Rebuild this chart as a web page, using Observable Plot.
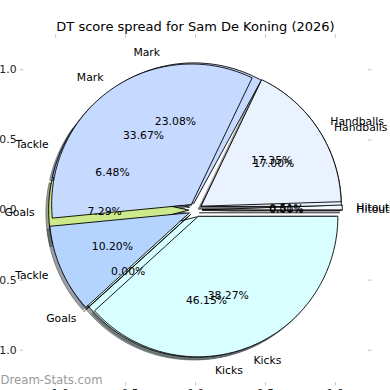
<!DOCTYPE html>
<html>
<head>
<meta charset="utf-8">
<script src="https://cdn.jsdelivr.net/npm/d3@7"></script>
<script src="https://cdn.jsdelivr.net/npm/@observablehq/plot@0.6"></script>
<style>
  html, body { margin: 0; padding: 0; background: #fff; }
  #chart { width: 390px; height: 390px; overflow: hidden; }
</style>
</head>
<body>
<div id="chart"></div>
<script>
// ---- data ----
const title = "DT score spread for Sam De Koning (2026)";
const watermark = "Dream-Stats.com";
const categories = ["Hitouts", "Handballs", "Mark", "Tackle", "Goals", "Kicks"];
// top pie (drawn last)
const seriesA = [0.51, 17.35, 33.67, 10.20, 0.00, 38.27];
// pie underneath
const seriesB = [0.00, 17.00, 23.08, 6.48, 7.29, 46.15];
const sliceColors = ["#f6f8ff", "#eaf1ff", "#c6d9ff", "#b4d4ff", "#cce98b", "#d8feff"];
const axisTicks = [-1, -0.5, 0, 0.5, 1];

// ---- geometry helpers (derived from values) ----
const explode = 0.05, radius = 1, labelDist = 1.1, pctDist = 0.6;
const shadowOffset = 0.02;
const rad = d => d * Math.PI / 180;

function darker(c) {
  const k = d3.rgb(c);
  return d3.rgb(k.r * 0.3, k.g * 0.3, k.b * 0.3).formatHex();
}

function buildPie(values, name) {
  const total = d3.sum(values);
  const pts = [], labels = [];
  let t = 0;
  values.forEach((v, i) => {
    const t1 = t, t2 = t + 360 * v / total;
    t = t2;
    const mid = (t1 + t2) / 2;
    const cx = explode * Math.cos(rad(mid)), cy = explode * Math.sin(rad(mid));
    const key = name + "-" + i;
    pts.push({key, x: cx, y: cy, color: sliceColors[i], shadow: darker(sliceColors[i])});
    const n = Math.max(1, Math.ceil(t2 - t1));
    for (let k = 0; k <= n; k++) {
      const a = rad(t1 + (t2 - t1) * k / n);
      pts.push({key, x: cx + radius * Math.cos(a), y: cy + radius * Math.sin(a), color: sliceColors[i], shadow: darker(sliceColors[i])});
    }
    const lx = labelDist * radius * Math.cos(rad(mid));
    labels.push({
      name: categories[i],
      pct: v.toFixed(2) + "%",
      lx: cx + lx,
      ly: cy + labelDist * radius * Math.sin(rad(mid)),
      px: cx + pctDist * radius * Math.cos(rad(mid)),
      py: cy + pctDist * radius * Math.sin(rad(mid)),
      side: Math.abs(lx) < 1e-9 ? "middle" : (lx > 0 ? "start" : "end")
    });
  });
  return {pts, labels};
}

const pieA = buildPie(seriesA, "A");
const pieB = buildPie(seriesB, "B");
const allLabels = pieB.labels.concat(pieA.labels);
const shadowPts = pieB.pts.concat(pieA.pts).map(d => ({...d, x: d.x - shadowOffset, y: d.y - shadowOffset}));

const fmt = d => d3.format(".1f")(d).replace("-", "\u2212");
const font = "DejaVu Sans, Liberation Sans, sans-serif";

const chart = Plot.plot({
  width: 390,
  height: 390,
  marginLeft: 23,
  marginRight: 23,
  marginTop: 37,
  marginBottom: 8,
  style: {fontFamily: font, fontSize: "10.8px", background: "#fff", overflow: "visible"},
  x: {domain: [-1.23, 1.23], axis: null},
  y: {domain: [-1.23, 1.23], axis: null},
  color: {type: "identity"},
  marks: [
    // axes ticks
    Plot.axisY(axisTicks, {anchor: "left", tickSize: 3.5, tickPadding: 3.5, stroke: "#c4c4c4", fill: "#222", tickFormat: fmt, label: null, fontSize: 10.8}),
    Plot.axisY(axisTicks, {anchor: "right", tickSize: 3.5, stroke: "#c4c4c4", tickFormat: () => "", label: null}),
    Plot.axisX(axisTicks, {anchor: "top", tickSize: 3.5, stroke: "#c4c4c4", tickFormat: () => "", label: null}),
    Plot.axisX(axisTicks, {anchor: "bottom", tickSize: 3.5, tickPadding: 3.5, stroke: "#c4c4c4", fill: "#222", tickFormat: fmt, label: null, fontSize: 10.8}),
    // shadows
    Plot.line(shadowPts, {x: "x", y: "y", z: "key", fill: "shadow", stroke: "shadow", fillOpacity: 0.5, strokeOpacity: 0.5, strokeWidth: 1, curve: "linear-closed"}),
    // lower pie
    Plot.line(pieB.pts, {x: "x", y: "y", z: "key", fill: "color", stroke: "black", strokeWidth: 0.9, curve: "linear-closed"}),
    // upper pie
    Plot.line(pieA.pts, {x: "x", y: "y", z: "key", fill: "color", stroke: "black", strokeWidth: 0.9, curve: "linear-closed"}),
    // category labels
    Plot.text(allLabels.filter(d => d.side === "start"), {x: "lx", y: "ly", text: "name", textAnchor: "start", fill: "black", fontSize: 10.8}),
    Plot.text(allLabels.filter(d => d.side === "end"), {x: "lx", y: "ly", text: "name", textAnchor: "end", fill: "black", fontSize: 10.8}),
    Plot.text(allLabels.filter(d => d.side === "middle"), {x: "lx", y: "ly", text: "name", textAnchor: "middle", fill: "black", fontSize: 10.8}),
    // percentage labels
    Plot.text(allLabels, {x: "px", y: "py", text: "pct", textAnchor: "middle", fill: "black", fontSize: 10.8}),
    // title
    Plot.text([title], {frameAnchor: "top", lineAnchor: "middle", dy: -11, fontSize: 13, fill: "black"}),
    // watermark
    Plot.text([watermark], {frameAnchor: "bottom-left", lineAnchor: "middle", dx: -23, dy: -2, textAnchor: "start", fontSize: 11.7, fill: "#999999"})
  ]
});
document.getElementById("chart").appendChild(chart);
</script>
</body>
</html>
